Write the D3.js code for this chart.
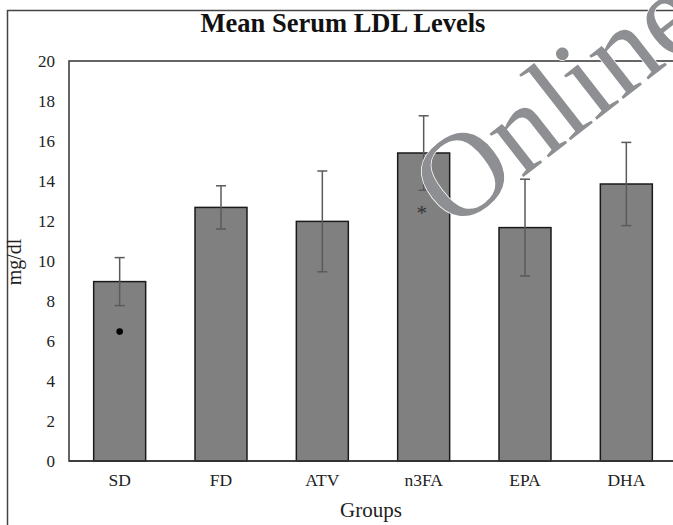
<!DOCTYPE html>
<html>
<head>
<meta charset="utf-8">
<script src="https://cdn.jsdelivr.net/npm/d3@7"></script>
<style>
  body { margin: 0; background: #fff; }
  svg text { font-family: "Liberation Serif", "Times New Roman", serif; }
</style>
</head>
<body>
<div id="chart"></div>
<script>
var groups = ["SD", "FD", "ATV", "n3FA", "EPA", "DHA"];
var means = [8.97, 12.68, 11.98, 15.4, 11.67, 13.85];
var errors = [1.2, 1.08, 2.52, 1.86, 2.42, 2.08];
var yTicks = [0, 2, 4, 6, 8, 10, 12, 14, 16, 18, 20];
// significance marks drawn inside bars
var marks = [{group: "SD", value: 6.47, symbol: "dot"}, {group: "n3FA", value: 12.55, symbol: "*"}];

var width = 673, height = 525;
var plotLeft = 69, plotRight = 677, plotTop = 61, plotBottom = 461;

var svg = d3.select("#chart").append("svg").attr("width", width).attr("height", height);

var x = d3.scaleBand().domain(groups).range([plotLeft, plotRight]).paddingInner(0.487).paddingOuter(0.2435);
var y = d3.scaleLinear().domain([0, 20]).range([plotBottom, plotTop]);

// outer frame
svg.append("rect")
    .attr("x", 7.5).attr("y", 10.5)
    .attr("width", 700).attr("height", 600)
    .attr("fill", "none").attr("stroke", "#444").attr("stroke-width", 1.5);

svg.append("text")
    .attr("x", 343).attr("y", 32)
    .attr("text-anchor", "middle")
    .attr("font-size", 26.5).attr("font-weight", "bold")
    .attr("fill", "#111")
    .text("Mean Serum LDL Levels");

// plot area border
svg.append("rect")
    .attr("x", plotLeft).attr("y", plotTop)
    .attr("width", plotRight - plotLeft).attr("height", plotBottom - plotTop)
    .attr("fill", "none").attr("stroke", "#333").attr("stroke-width", 1.5);

var yAxis = svg.append("g")
    .attr("transform", "translate(" + plotLeft + ",0)")
    .call(d3.axisLeft(y).tickValues(yTicks).tickSize(0).tickPadding(14));
yAxis.select(".domain").remove();
yAxis.selectAll("text").attr("font-size", 17).attr("fill", "#222")
    .attr("font-family", "Liberation Serif");

var xAxis = svg.append("g")
    .attr("transform", "translate(0," + plotBottom + ")")
    .call(d3.axisBottom(x).tickSize(0).tickPadding(13));
xAxis.select(".domain").remove();
xAxis.selectAll("text").attr("font-size", 17.5).attr("fill", "#222")
    .attr("font-family", "Liberation Serif");

svg.selectAll(".bar")
    .data(groups)
    .enter()
    .append("rect")
    .attr("class", "bar")
    .attr("x", function(d) { return x(d); })
    .attr("y", function(d, i) { return y(means[i]); })
    .attr("width", x.bandwidth())
    .attr("height", function(d, i) { return plotBottom - y(means[i]); })
    .attr("fill", "#808080")
    .attr("stroke", "#1a1a1a")
    .attr("stroke-width", 1.5);

// baseline over bars
svg.append("line")
    .attr("x1", plotLeft).attr("x2", plotRight)
    .attr("y1", plotBottom).attr("y2", plotBottom)
    .attr("stroke", "#333").attr("stroke-width", 1.5);

var err = svg.selectAll(".err")
    .data(groups)
    .enter()
    .append("g")
    .attr("class", "err")
    .attr("stroke", "#5a5a5a")
    .attr("stroke-width", 1.5);
err.append("line")
    .attr("x1", function(d) { return x(d) + x.bandwidth() / 2; })
    .attr("x2", function(d) { return x(d) + x.bandwidth() / 2; })
    .attr("y1", function(d, i) { return y(means[i] - errors[i]); })
    .attr("y2", function(d, i) { return y(means[i] + errors[i]); });
[1, -1].forEach(function(s) {
    err.append("line")
        .attr("x1", function(d) { return x(d) + x.bandwidth() / 2 - 5; })
        .attr("x2", function(d) { return x(d) + x.bandwidth() / 2 + 5; })
        .attr("y1", function(d, i) { return y(means[i] + s * errors[i]); })
        .attr("y2", function(d, i) { return y(means[i] + s * errors[i]); });
});

marks.forEach(function(m) {
    var cx = x(m.group) + x.bandwidth() / 2;
    if (m.symbol == "dot") {
        svg.append("circle").attr("cx", cx).attr("cy", y(m.value)).attr("r", 3.3).attr("fill", "#000");
    } else {
        svg.append("text").attr("x", cx - 2).attr("y", y(m.value) + 10)
            .attr("text-anchor", "middle").attr("font-size", 21).attr("fill", "#333")
            .text(m.symbol);
    }
});

svg.append("text")
    .attr("transform", "translate(21,262) rotate(-90)")
    .attr("text-anchor", "middle")
    .attr("font-size", 20).attr("fill", "#222")
    .text("mg/dl");

svg.append("text")
    .attr("x", (plotLeft + plotRight) / 2 - 2).attr("y", 517)
    .attr("text-anchor", "middle")
    .attr("font-size", 21).attr("fill", "#222")
    .text("Groups");

// watermark
svg.append("text")
    .attr("transform", "translate(453,232) rotate(-38)")
    .attr("font-size", 120)
    .attr("fill", "#8d8f92")
    .attr("stroke", "#fff").attr("stroke-width", 1.5)
    .attr("paint-order", "stroke")
    .text("Online");
</script>
</body>
</html>
